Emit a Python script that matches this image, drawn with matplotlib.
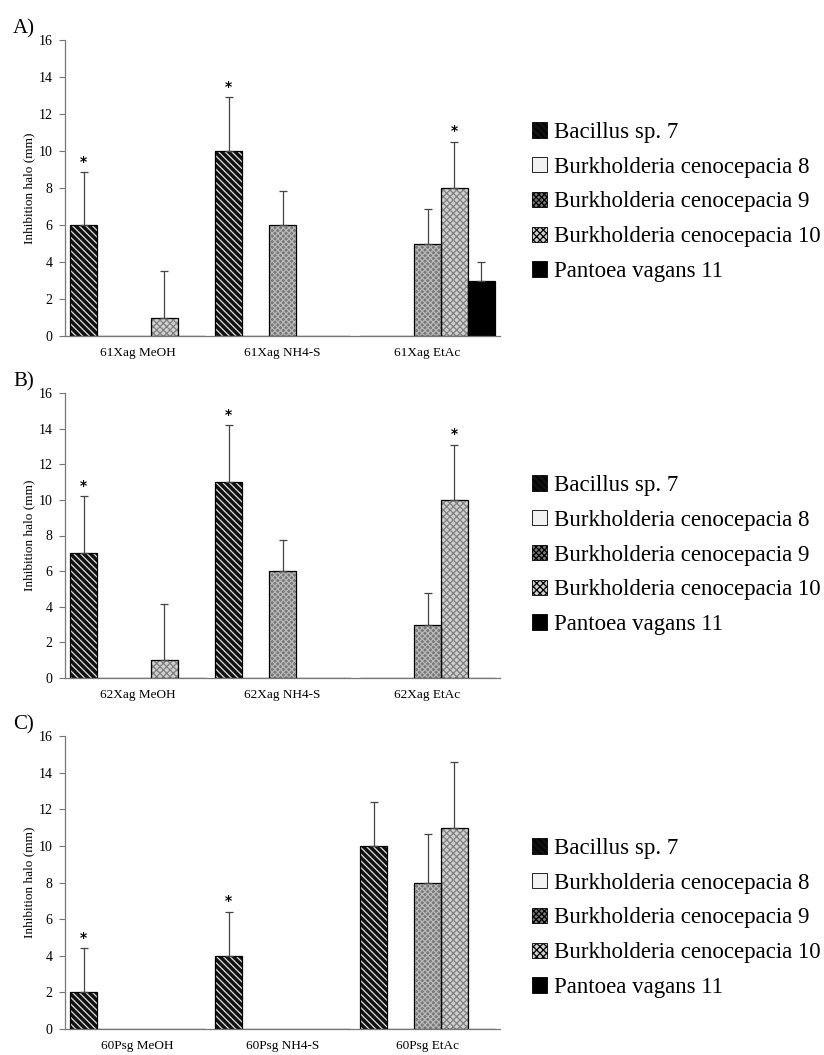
import matplotlib
matplotlib.use("Agg")
import matplotlib.pyplot as plt
from matplotlib.patches import Patch
import numpy as np

plt.rcParams['font.family'] = ['Liberation Serif', 'DejaVu Serif']
plt.rcParams['hatch.linewidth'] = 0.9

series = ["Bacillus sp. 7", "Burkholderia cenocepacia 8", "Burkholderia cenocepacia 9",
          "Burkholderia cenocepacia 10", "Pantoea vagans 11"]
panel_letters = ["A)", "B)", "C)"]

cats_A = ["61Xag MeOH", "61Xag NH4-S", "61Xag EtAc"]
cats_B = ["62Xag MeOH", "62Xag NH4-S", "62Xag EtAc"]
cats_C = ["60Psg MeOH", "60Psg NH4-S", "60Psg EtAc"]

# values[series][category]
vals_A = [[6, 10, 0], [0, 0, 0], [0, 6, 5], [1, 0, 8], [0, 0, 3]]
errs_A = [[2.85, 2.9, 0], [0, 0, 0], [0, 1.85, 1.85], [2.5, 0, 2.5], [0, 0, 1.0]]
stars_A = [[1, 1, 0], [0, 0, 0], [0, 0, 0], [0, 0, 1], [0, 0, 0]]

vals_B = [[7, 11, 0], [0, 0, 0], [0, 6, 3], [1, 0, 10], [0, 0, 0]]
errs_B = [[3.2, 3.2, 0], [0, 0, 0], [0, 1.75, 1.75], [3.15, 0, 3.1], [0, 0, 0]]
stars_B = [[1, 1, 0], [0, 0, 0], [0, 0, 0], [0, 0, 1], [0, 0, 0]]

vals_C = [[2, 4, 10], [0, 0, 0], [0, 0, 8], [0, 0, 11], [0, 0, 0]]
errs_C = [[2.4, 2.4, 2.4], [0, 0, 0], [0, 0, 2.65], [0, 0, 3.6], [0, 0, 0]]
stars_C = [[1, 1, 0], [0, 0, 0], [0, 0, 0], [0, 0, 0], [0, 0, 0]]

yticks = [0, 2, 4, 6, 8, 10, 12, 14, 16]

styles = [
    dict(face="#111111", hatch="\\\\\\\\\\", hcol="#e0e0e0"),
    dict(face="#f2f2f2", hatch=None, hcol="#f2f2f2"),
    dict(face="#787878", hatch="xxxxxx", hcol="#b8b8b8"),
    dict(face="#d0d0d0", hatch="xxxxx", hcol="#808080"),
    dict(face="#000000", hatch=None, hcol="#000000"),
]

W, H = 824, 1055
fig = plt.figure(figsize=(W / 100, H / 100), dpi=100)

axes_px = [(40, 336), (393, 678), (736, 1029)]
legend_top = [122, 475, 838]
panels = [(cats_A, vals_A, errs_A, stars_A), (cats_B, vals_B, errs_B, stars_B),
          (cats_C, vals_C, errs_C, stars_C)]

bw = 0.186
for p, ((top, bot), (cats, vals, errs, stars)) in enumerate(zip(axes_px, panels)):
    ax = fig.add_axes([65 / W, 1 - bot / H, 435 / W, (bot - top) / H])
    x = np.arange(len(cats))
    for i in range(len(series)):
        st = styles[i]
        xs = x + (i - 2) * bw
        v = np.array(vals[i], dtype=float)
        e = np.array(errs[i], dtype=float)
        ax.bar(xs, v, bw, color=st["face"], edgecolor=st["hcol"], hatch=st["hatch"],
               linewidth=0, zorder=2)
        ax.bar(xs, v, bw, fill=False, edgecolor="black", linewidth=0.9, zorder=3)
        for xx, vv, ee, ss in zip(xs, v, e, stars[i]):
            if ee > 0:
                ax.errorbar(xx, vv, yerr=[[0], [ee]], fmt='none', ecolor="#444444",
                            elinewidth=0.9, capsize=3, capthick=0.9, zorder=4)
            if ss:
                ax.text(xx, vv + ee + 0.2, "*", ha="center", va="bottom",
                        fontsize=10, fontweight="bold", family="DejaVu Sans")
    ax.set_xlim(-0.5, 2.5)
    ax.set_ylim(0, 16)
    ax.set_yticks(yticks)
    ax.set_xticks(x)
    ax.set_xticklabels(cats, fontsize=9.5)
    ax.tick_params(axis="y", labelsize=10, length=4, color="#777777", width=0.8, pad=5)
    ax.tick_params(axis="x", length=0, pad=8)
    for s in ["top", "right"]:
        ax.spines[s].set_visible(False)
    for s in ["left", "bottom"]:
        ax.spines[s].set_color("#777777")
        ax.spines[s].set_linewidth(0.9)
    ax.set_ylabel("Inhibition halo (mm)", fontsize=9.5, labelpad=2)
    fig.text(13 / W, 1 - (top - 11) / H, panel_letters[p], fontsize=15,
             ha="left", va="center")

    handles = [Patch(facecolor=st["face"], edgecolor="black", hatch=st["hatch"], linewidth=0.6)
               for st in styles]
    fig.legend(handles, series, loc="upper left",
               bbox_to_anchor=(532 / W, 1 - legend_top[p] / H),
               frameon=False, fontsize=16.5, handlelength=0.65, handleheight=0.65,
               handletextpad=0.3, labelspacing=0.6, borderpad=0, borderaxespad=0)

fig.savefig("out.png", dpi=100)
